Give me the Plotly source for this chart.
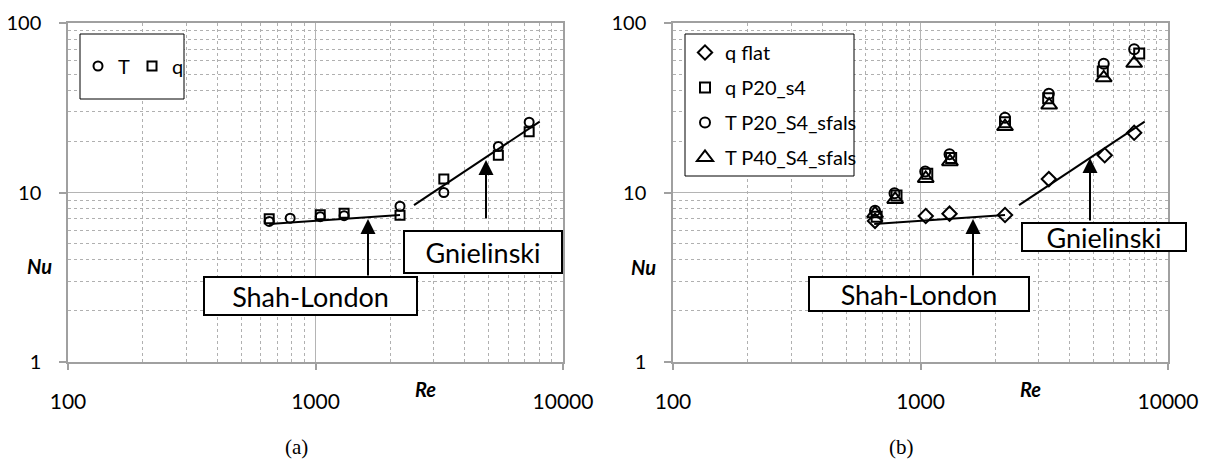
import plotly.graph_objects as go

# ---------------- data ----------------
# panel (a)
re_T_a = [650, 790, 1045, 1305, 2195, 3300, 5480, 7300]
nu_T_a = [6.75, 7.05, 7.2, 7.3, 8.3, 10.0, 18.7, 26.0]
re_q_a = [650, 1045, 1305, 2195, 3300, 5480, 7300]
nu_q_a = [7.0, 7.4, 7.55, 7.35, 12.0, 16.6, 22.8]

# panel (b)
re_qflat = [655, 1050, 1310, 2195, 3300, 5550, 7300]
nu_qflat = [6.8, 7.27, 7.5, 7.37, 12.0, 16.6, 22.5]
re_qP20 = [665, 800, 1065, 1330, 2195, 3280, 5450, 7650]
nu_qP20 = [7.2, 9.6, 12.9, 16.0, 26.0, 36.0, 51.7, 66.0]
re_TP20 = [655, 785, 1045, 1310, 2195, 3300, 5500, 7300]
nu_TP20 = [7.8, 9.9, 13.3, 16.8, 27.6, 38.3, 57.5, 70.0]
re_TP40 = [655, 790, 1050, 1315, 2195, 3310, 5500, 7300]
nu_TP40 = [7.5, 9.1, 12.1, 15.2, 24.5, 32.8, 47.5, 57.8]

# correlations
re_shah = [650, 2195]
nu_shah = [6.52, 7.37]
re_gni = [2500, 8050]
nu_gni = [8.43, 26.2]

# tick labels
x_tickvals = [100, 1000, 10000]
x_ticktext = ["100", "1000", "10000"]
y_tickvals = [1, 10, 100]
y_ticktext = ["1", "10", "100"]
x_minor = [m * 10 ** e for e in (2, 3) for m in range(2, 10)]
y_minor = [m * 10 ** e for e in (0, 1) for m in range(2, 10)]

# ---------------- layout helpers ----------------
# the page body has an 8 px margin, so the figure is placed at (8, 8)
OFF = 8
W, H = 1209 - OFF, 459 - OFF
ML, MR, MT, MB = 68 - OFF, 41, 23 - OFF, 97
PW, PH = W - ML - MR, H - MT - MB


def px(x):  # page pixel -> paper fraction
    return (x - 68) / PW


def py(y):
    return (362 - y) / PH


FONT = "Lato"
AX_GRAY = "#a0a0a0"


def mk(sym, size):
    return dict(symbol=sym, size=size, color="black", line=dict(color="black", width=2))


fig = go.Figure()

for xa, ya in (("x", "y"), ("x2", "y2")):
    fig.add_trace(go.Scatter(x=re_shah, y=nu_shah, mode="lines", line=dict(color="black", width=2),
                             showlegend=False, hoverinfo="skip", xaxis=xa, yaxis=ya))
    fig.add_trace(go.Scatter(x=re_gni, y=nu_gni, mode="lines", line=dict(color="black", width=2),
                             showlegend=False, hoverinfo="skip", xaxis=xa, yaxis=ya))

# panel (a)
fig.add_trace(go.Scatter(x=re_T_a, y=nu_T_a, mode="markers", name="T", marker=mk("circle-open", 9),
                         xaxis="x", yaxis="y", legend="legend"))
fig.add_trace(go.Scatter(x=re_q_a, y=nu_q_a, mode="markers", name="q", marker=mk("square-open", 9),
                         xaxis="x", yaxis="y", legend="legend"))

# panel (b)
fig.add_trace(go.Scatter(x=re_qflat, y=nu_qflat, mode="markers", name="q flat", marker=mk("diamond-open", 11),
                         xaxis="x2", yaxis="y2", legend="legend2", legendgroup="g1"))
fig.add_trace(go.Scatter(x=re_qP20, y=nu_qP20, mode="markers", name="q P20_s4", marker=mk("square-open", 10),
                         xaxis="x2", yaxis="y2", legend="legend2", legendgroup="g2"))
fig.add_trace(go.Scatter(x=re_TP20, y=nu_TP20, mode="markers", name="T P20_S4_sfals", marker=mk("circle-open", 10),
                         xaxis="x2", yaxis="y2", legend="legend2", legendgroup="g3"))
fig.add_trace(go.Scatter(x=re_TP40, y=nu_TP40, mode="markers", name="T P40_S4_sfals", marker=mk("triangle-up-open", 14),
                         xaxis="x2", yaxis="y2", legend="legend2", legendgroup="g4"))

xax = dict(type="log", range=[2, 4], tickmode="array", tickvals=x_tickvals, ticktext=x_ticktext,
           showgrid=True, gridcolor="#b4b4b4", gridwidth=1,
           minor=dict(tickmode="array", tickvals=x_minor, showgrid=True, gridcolor="#b0b0b0",
                      griddash="dot", gridwidth=1, ticks=""),
           showline=True, linecolor=AX_GRAY, linewidth=1.5, mirror=True,
           ticks="outside", ticklen=6, tickcolor=AX_GRAY, tickwidth=1.5,
           ticklabelstandoff=14, tickfont=dict(family=FONT, size=21, color="black"), zeroline=False,
           automargin=False)
yax = dict(type="log", range=[0, 2], tickmode="array", tickvals=y_tickvals, ticktext=y_ticktext,
           showgrid=True, gridcolor="#b4b4b4", gridwidth=1,
           minor=dict(tickmode="array", tickvals=y_minor, showgrid=True, gridcolor="#b0b0b0",
                      griddash="dot", gridwidth=1, ticks=""),
           showline=True, linecolor=AX_GRAY, linewidth=1.5, mirror=True,
           ticks="outside", ticklen=7, tickcolor=AX_GRAY, tickwidth=1.5,
           ticklabelstandoff=14, tickfont=dict(family=FONT, size=20, color="black"), zeroline=False,
           automargin=False)

fig.update_layout(
    width=W, height=H,
    margin=dict(l=ML, r=MR, t=MT, b=MB, pad=0, autoexpand=False),
    paper_bgcolor="white", plot_bgcolor="white",
    font=dict(family=FONT, color="black"),
    xaxis=dict(xax, domain=[0, px(563)], anchor="y"),
    yaxis=dict(yax, domain=[0, 1], anchor="x"),
    xaxis2=dict(xax, domain=[px(673), 1], anchor="y2"),
    yaxis2=dict(yax, domain=[0, 1], anchor="x2"),
    legend=dict(orientation="h", x=px(78), y=py(66), xanchor="left", yanchor="middle",
                bgcolor="rgba(0,0,0,0)", borderwidth=0, font=dict(family=FONT, size=20),
                itemwidth=30, entrywidth=9, entrywidthmode="pixels", itemclick=False),
    legend2=dict(orientation="v", x=px(685), y=py(33), xanchor="left", yanchor="top",
                 bgcolor="rgba(0,0,0,0)", borderwidth=0, font=dict(family=FONT, size=20),
                 itemwidth=30, tracegroupgap=6, itemclick=False),
    showlegend=True,
)

# legend frames
for x0, x1, y0, y1 in ((80, 184, 34, 99), (685, 854, 34, 176)):
    fig.add_shape(type="rect", xref="paper", yref="paper", x0=px(x0), x1=px(x1), y0=py(y1), y1=py(y0),
                  line=dict(color="black", width=1), fillcolor="white", layer="above")

# correlation label boxes
boxes = [
    ("Shah-London", 310.5, 296, 209, 34),
    ("Gnielinski", 483, 252, 154, 38),
    ("Shah-London", 919, 294, 216, 30),
    ("Gnielinski", 1104, 237, 160, 24),
]
for txt, cx, cy, w, h in boxes:
    fig.add_annotation(text=txt, xref="paper", yref="paper", x=px(cx), y=py(cy), xanchor="center",
                       yanchor="middle", showarrow=False, width=w, height=h, bgcolor="white",
                       bordercolor="black", borderwidth=2, borderpad=1,
                       font=dict(family=FONT, size=27, color="black"))

# arrows (x, tip y, tail y)
arrows = [(368, 219, 277), (486, 160, 220), (973, 219, 277), (1090, 158, 222)]
for ax_, tip, tail in arrows:
    fig.add_annotation(text="", xref="paper", yref="paper", x=px(ax_), y=py(tip), ax=0, ay=tail - tip,
                       showarrow=True, arrowhead=2, arrowsize=1.5, arrowwidth=2, arrowcolor="black")

# axis titles
for txt, cx, cy in (("Re", 425, 389), ("Re", 1030, 389), ("Nu", 39, 266), ("Nu", 643, 267)):
    fig.add_annotation(text="<b><i>%s</i></b>" % txt, xref="paper", yref="paper", x=px(cx), y=py(cy),
                       xanchor="center", yanchor="middle", showarrow=False,
                       font=dict(family=FONT, size=20, color="black"))

# panel captions
for txt, cx in (("(a)", 296), ("(b)", 901)):
    fig.add_annotation(text=txt, xref="paper", yref="paper", x=px(cx), y=py(447), xanchor="center",
                       yanchor="middle", showarrow=False,
                       font=dict(family="Liberation Serif", size=21, color="black"))

fig.write_html("out.html")
